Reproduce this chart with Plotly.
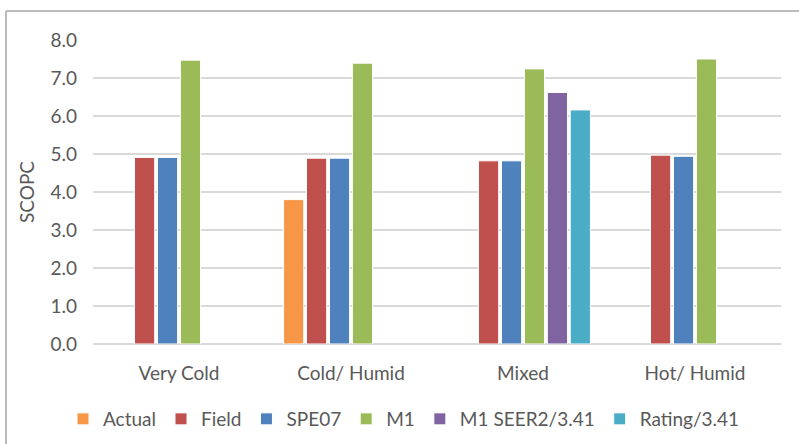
import plotly.graph_objects as go

# Climate regions on the category axis
regions = ["Very Cold", "Cold/ Humid", "Mixed", "Hot/ Humid"]

# SCOPC values per series (None where no value exists)
actual = [None, 3.80, None, None]
field = [4.91, 4.89, 4.82, 4.97]
spe07 = [4.91, 4.89, 4.82, 4.94]
m1 = [7.47, 7.39, 7.24, 7.50]
m1_seer2 = [None, None, 6.62, None]
rating = [None, None, 6.16, None]

y_ticks = [0, 1, 2, 3, 4, 5, 6, 7, 8]

series = [
    ("Actual", actual, "#F79646"),
    ("Field", field, "#C0504D"),
    ("SPE07", spe07, "#4F81BD"),
    ("M1", m1, "#9BBB59"),
    ("M1 SEER2/3.41", m1_seer2, "#8064A2"),
    ("Rating/3.41", rating, "#4BACC6"),
]

FONT = "Lato"
GREY = "#595959"
FS = 19

fig = go.Figure()
for name, vals, color in series:
    fig.add_trace(go.Bar(
        x=regions, y=vals, name=name,
        marker=dict(color=color, line=dict(color="white", width=1)),
    ))

W, H = 799, 444
L, R, T, B = 93, 18, 40, 100
pw, ph = W - L - R, H - T - B

def px_to_paper_x(px):
    return (px - L) / pw

def px_to_paper_y(py):
    return (H - B - py) / ph

fig.update_layout(
    width=W, height=H,
    margin=dict(l=L, r=R, t=T, b=B, autoexpand=False),
    paper_bgcolor="white", plot_bgcolor="white",
    barmode="group", bargap=0.2, bargroupgap=0.12,
    font=dict(family=FONT, size=FS, color=GREY),
    showlegend=True,
    legend=dict(
        orientation="h", xref="container", x=404 / W, xanchor="center",
        yref="container", y=1 - 419 / H, yanchor="middle",
        font=dict(family=FONT, size=FS, color=GREY),
        itemwidth=30, traceorder="normal",
    ),
    xaxis=dict(
        showgrid=False, showline=False, ticks="", automargin=False,
        tickfont=dict(family=FONT, size=FS, color=GREY),
        ticklabelstandoff=16,
    ),
    yaxis=dict(
        range=[0, 8], tickvals=y_ticks, tickformat=".1f", automargin=False,
        showgrid=True, gridcolor="#D9D9D9", gridwidth=1.5,
        zeroline=True, zerolinecolor="#D9D9D9", zerolinewidth=1.5,
        showline=False, ticks="",
        tickfont=dict(family=FONT, size=FS, color=GREY),
        ticklabelstandoff=15,
        title=dict(text="SCOPC", font=dict(family=FONT, size=FS, color=GREY), standoff=10),
    ),
    shapes=[
        # chart frame (top and left edges visible)
        dict(type="line", xref="paper", yref="paper",
             x0=px_to_paper_x(6), x1=px_to_paper_x(820),
             y0=px_to_paper_y(11), y1=px_to_paper_y(11),
             line=dict(color="#A6A6A6", width=1.5)),
        dict(type="line", xref="paper", yref="paper",
             x0=px_to_paper_x(6), x1=px_to_paper_x(6),
             y0=px_to_paper_y(11), y1=px_to_paper_y(460),
             line=dict(color="#A6A6A6", width=1.5)),
    ],
)

fig.write_html("out.html")
